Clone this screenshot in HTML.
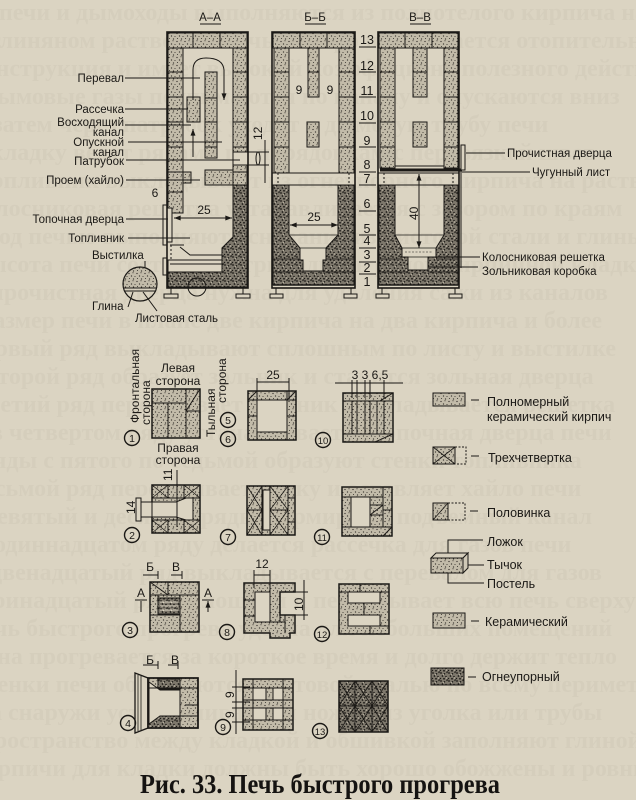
<!DOCTYPE html>
<html><head><meta charset="utf-8">
<style>
html,body{margin:0;padding:0;background:#dbd4c2;width:636px;height:800px;overflow:hidden}
svg{display:block}
</style></head><body>
<svg width="636" height="800" viewBox="0 0 636 800" xmlns="http://www.w3.org/2000/svg" font-family="'Liberation Sans', sans-serif">
<defs>
<pattern id="c" width="8" height="8" patternUnits="userSpaceOnUse">
 <rect width="8" height="8" fill="#c2bba9"/>
 <circle cx="1" cy="1.5" r=".65" fill="#34302a"/>
 <circle cx="5" cy=".8" r=".55" fill="#34302a"/>
 <circle cx="3.5" cy="4" r=".65" fill="#34302a"/>
 <circle cx="7" cy="4.5" r=".55" fill="#34302a"/>
 <circle cx="1.5" cy="6.5" r=".55" fill="#34302a"/>
 <circle cx="5.5" cy="7" r=".65" fill="#34302a"/>
</pattern>
<pattern id="r" width="8" height="8" patternUnits="userSpaceOnUse">
 <rect width="8" height="8" fill="#7f796d"/>
 <circle cx="1" cy="1" r=".9" fill="#1c1a17"/>
 <circle cx="4.5" cy="1.8" r=".8" fill="#1c1a17"/>
 <circle cx="7" cy=".5" r=".7" fill="#1c1a17"/>
 <circle cx="2.5" cy="4" r=".9" fill="#1c1a17"/>
 <circle cx="6" cy="4.5" r=".8" fill="#1c1a17"/>
 <circle cx=".5" cy="6.5" r=".7" fill="#1c1a17"/>
 <circle cx="4" cy="6.8" r=".9" fill="#1c1a17"/>
 <circle cx="7.2" cy="7.3" r=".6" fill="#1c1a17"/>
 <circle cx="3.5" cy="2.8" r=".6" fill="#d0c9b7"/>
 <circle cx="6.5" cy="6" r=".6" fill="#d0c9b7"/>
</pattern>
<marker id="a" viewBox="0 0 8 6" refX="8" refY="3" markerWidth="7" markerHeight="5" orient="auto-start-reverse" markerUnits="userSpaceOnUse"><path d="M0 0L8 3L0 6z" fill="#1b1916"/></marker>
</defs>

<rect width="636" height="800" fill="#dbd4c2"/>

<!-- faint bleed-through text -->
<g font-family="'Liberation Serif',serif" font-weight="bold" font-size="24" fill="#aca699" opacity=".12">
<text x="-20" y="20">в печи и дымоходы выполняются из полнотелого кирпича на</text>
<text x="-10" y="48">глиняном растворе и печь быстро прогревается отопительная</text>
<text x="-30" y="76">конструкция и имеет высокий коэффициент полезного действия</text>
<text x="-15" y="104">дымовые газы поднимаются по каналу и опускаются вниз</text>
<text x="-25" y="132">а затем через патрубок уходят в дымовую трубу печи</text>
<text x="-10" y="160">кладку ведут рядами по порядовкам с перевязкой швов</text>
<text x="-20" y="188">топливник выкладывают из огнеупорного кирпича на растворе</text>
<text x="-30" y="216">колосниковая решетка устанавливается с зазором по краям</text>
<text x="-15" y="244">под печью выполняют основание из листовой стали и глины</text>
<text x="-25" y="272">высота печи составляет тринадцать рядов кирпичной кладки</text>
<text x="-10" y="300">прочистная дверца нужна для удаления сажи из каналов</text>
<text x="-20" y="328">размер печи в плане две кирпича на два кирпича и более</text>
<text x="-30" y="356">первый ряд выкладывают сплошным по листу и выстилке</text>
<text x="-15" y="384">второй ряд образует зольник и ставится зольная дверца</text>
<text x="-25" y="412">третий ряд перекрывает зольник и укладывается решетка</text>
<text x="-10" y="440">в четвертом ряду устанавливается топочная дверца печи</text>
<text x="-20" y="468">ряды с пятого по седьмой образуют стенки топливника</text>
<text x="-30" y="496">восьмой ряд перекрывает топку и оставляет хайло печи</text>
<text x="-15" y="524">девятый и десятый ряды формируют подъемный канал</text>
<text x="-25" y="552">в одиннадцатом ряду делается рассечка для газов печи</text>
<text x="-10" y="580">двенадцатый ряд выкладывается с перевалом для газов</text>
<text x="-20" y="608">тринадцатый ряд сплошной и перекрывает всю печь сверху</text>
<text x="-30" y="636">печь быстрого прогрева удобна для небольших помещений</text>
<text x="-15" y="664">она прогревается за короткое время и долго держит тепло</text>
<text x="-25" y="692">стенки печи обшиваются листовой сталью по всему периметру</text>
<text x="-10" y="720">а снаружи устанавливаются ножки из уголка или трубы</text>
<text x="-20" y="748">пространство между кладкой и обшивкой заполняют глиной</text>
<text x="-30" y="776">кирпичи для кладки должны быть хорошо обожжены и ровные</text>
</g>

<g stroke="#1b1916" stroke-width="1" fill="none">

<!-- ================= A-A ================= -->
<rect x="168" y="33" width="79" height="15" fill="url(#c)"/>
<path d="M193 33V48M220 33V48"/>
<rect x="168" y="48" width="15" height="165" fill="url(#c)"/>
<path d="M168 72H183M168 97H183M168 122H183M168 147H183M168 172H183M168 192H183"/>
<rect x="233" y="48" width="14" height="137" fill="url(#c)"/>
<path d="M233 72H247M233 97H247M233 122H247M233 147H247M233 172H247"/>
<rect x="205" y="72" width="12" height="86" fill="url(#c)"/>
<path d="M205 98H217M205 122H217M205 147H217"/>
<rect x="187" y="97" width="13" height="25" fill="url(#c)"/>
<rect x="205" y="170" width="28" height="15" fill="url(#c)"/>
<rect x="183" y="172" width="8" height="11" fill="url(#c)"/>
<path d="M217 160H233"/>
<rect x="233" y="152" width="25" height="13" fill="#dbd4c2"/>
<ellipse cx="258" cy="158.5" rx="2" ry="6.5" fill="#dbd4c2"/>
<path fill="url(#r)" d="M233 185H247V287H168V272H222V248L233 237Z"/>
<rect x="168" y="260" width="54" height="12" fill="#dbd4c2"/>
<path d="M170 264H222"/>
<path d="M180 247L190 255H222M170 245H184"/>
<path d="M171 245V260" stroke-dasharray="2 2"/>
<rect x="163" y="205" width="4" height="40" fill="#dbd4c2"/>
<rect x="167" y="208" width="5" height="34" fill="#dbd4c2"/>
<rect x="163" y="258" width="4" height="17" fill="#dbd4c2"/>
<rect x="167" y="32" width="81" height="256" stroke-width="1.6"/>
<circle cx="197" cy="287" r="9"/>
<path d="M171 288V294M243 288V294"/>
<rect x="164" y="294" width="14" height="4" fill="#dbd4c2"/>
<rect x="236" y="294" width="14" height="4" fill="#dbd4c2"/>
<!-- flow arrows -->
<path d="M193 100V70Q193 58 206 58Q223 58 224 70V100" marker-end="url(#a)"/>
<path d="M193 157V129" marker-end="url(#a)"/>
<!-- dims -->
<line x1="174" y1="218" x2="232" y2="218" marker-start="url(#a)" marker-end="url(#a)"/>
<path d="M265 140V183M258 152H269M258 165H269"/>
<!-- leaders -->
<path d="M125 78H200M125 109H188M125 125H191M128 142H222M126 160H240M126 180H200M126 219H168M128 238H190M145 261V278"/>
<!-- detail circle -->
<clipPath id="cc"><circle cx="140" cy="284" r="17"/></clipPath>
<rect x="120" y="264" width="40" height="24" fill="url(#c)" clip-path="url(#cc)" stroke="none"/>
<circle cx="140" cy="284" r="17" stroke-width="1.2"/>
<path d="M123 288H157M124 291H156"/>
<path d="M128 307L133 292M157 311L143 292"/>

<!-- ================= Б-Б ================= -->
<rect x="273" y="33" width="81" height="15" fill="url(#c)"/>
<path d="M300 33V48M327 33V48"/>
<rect x="274" y="48" width="15" height="125" fill="url(#c)"/>
<rect x="339" y="48" width="15" height="125" fill="url(#c)"/>
<path d="M274 72H289M274 97H289M274 122H289M274 147H289M339 72H354M339 97H354M339 122H354M339 147H354"/>
<rect x="308" y="48" width="11" height="49" fill="url(#c)"/><path d="M308 72H319"/>
<rect x="307" y="122" width="12" height="25" fill="url(#c)"/>
<path d="M272 173H355M272 185H355"/>
<path d="M278 173V185M349 173V185" stroke-dasharray="2 2"/>
<path fill="url(#r)" fill-rule="evenodd" d="M273 185H354V285H273Z M289 185V235L300 248V260H303V271H323V260H326V248L338 235V185Z"/>
<path d="M289 235H338M300 248H326M273 259H300M326 259H354M273 272H303M323 272H354" stroke-width=".8"/>
<path d="M273 285H354" stroke-width="1.5"/>
<rect x="272" y="32" width="83" height="256" stroke-width="1.6"/>
<line x1="290" y1="225" x2="338" y2="225" marker-start="url(#a)" marker-end="url(#a)"/>
<path d="M276 288V294M351 288V294"/>
<rect x="270" y="294" width="13" height="4" fill="#dbd4c2"/>
<rect x="344" y="294" width="13" height="4" fill="#dbd4c2"/>

<!-- ================= В-В ================= -->
<rect x="379" y="33" width="79" height="15" fill="url(#c)"/>
<path d="M405 33V48M432 33V48"/>
<rect x="380" y="48" width="15" height="120" fill="url(#c)"/>
<rect x="444" y="48" width="14" height="120" fill="url(#c)"/>
<path d="M380 72H395M380 97H395M380 122H395M380 147H395M444 72H458M444 97H458M444 122H458M444 147H458"/>
<rect x="413" y="48" width="14" height="49" fill="url(#c)"/><path d="M413 72H427"/>
<rect x="413" y="122" width="14" height="25" fill="url(#c)"/>
<path d="M395 166H444"/>
<path d="M378 173H459M378 185H459"/>
<path d="M384 173V185M453 173V185" stroke-dasharray="2 2"/>
<path fill="url(#r)" fill-rule="evenodd" d="M379 185H458V285H379Z M395 185V235L402 248V257H408V270H428V257H436V248L444 235V185Z"/>
<path d="M395 235H444M402 248H436M402 257H436M379 259H402M436 259H458M379 272H408M428 272H458" stroke-width=".8"/>
<path d="M405 252H433" stroke-width=".6" stroke-dasharray="2 1.5"/>
<path d="M379 285H458" stroke-width="1.5"/>
<rect x="378" y="32" width="81" height="256" stroke-width="1.6"/>
<path d="M380 170H462" stroke-width="3"/>
<line x1="419" y1="174" x2="419" y2="248" marker-start="url(#a)" marker-end="url(#a)"/>
<rect x="461" y="145" width="4" height="25" fill="#dbd4c2"/>
<path d="M461 170V268"/>
<path d="M382 288V294M455 288V294"/>
<rect x="376" y="294" width="13" height="4" fill="#dbd4c2"/>
<rect x="449" y="294" width="13" height="4" fill="#dbd4c2"/>
<!-- right leaders -->
<path d="M466 153H505M462 172H530M436 257H480M428 267H478"/>
<!-- number underlines -->
<path d="M359 47H376M359 72H376M359 97H376M359 123H376M359 147H376M359 172H376M359 185H376M359 211H376M359 235H376M359 248H376M359 262H376M359 274H376"/>

<!-- ================= plan squares ================= -->
<!-- 1 -->
<rect x="152" y="389" width="34" height="14" fill="url(#c)"/>
<rect x="186" y="389" width="14" height="22" fill="url(#c)"/>
<line x1="186" y1="411" x2="200" y2="389"/>
<rect x="152" y="403" width="16" height="35" fill="url(#c)"/>
<rect x="168" y="403" width="18" height="35" fill="url(#c)"/>
<rect x="186" y="411" width="14" height="27" fill="url(#c)"/>
<rect x="152" y="389" width="48" height="49" stroke-width="1.5"/>

<!-- 5/6 -->
<rect x="248" y="391" width="48" height="49" fill="url(#c)" stroke-width="1.5"/>
<rect x="257" y="400" width="30" height="32" fill="#dbd4c2"/>
<path d="M257 391V400M287 391V400M248 400H257M287 400H296M257 432V440M287 432V440M248 416H257M287 416H296M248 400L257 391M287 400L296 391"/>
<path d="M257 382H289M257 378V398M289 378V398"/>

<!-- 10 -->
<rect x="343" y="393" width="50" height="49" fill="url(#c)" stroke-width="1.5"/>
<path d="M343 401H393M343 434H393M352 401V434M357 401V434M365 401V434M370 401V434M377 401V434M384 401V434M380 401L393 393M375 442L393 434"/>
<path d="M335 383H403M352 380V398M357 380V398M365 380V398M370 380V398M384 380V398"/>

<!-- 2 -->
<rect x="152" y="485" width="48" height="48" fill="url(#c)" stroke-width="1.5"/>
<path d="M152 498H200M152 520H200M168 485V498M184 485V498M168 520V533M184 520V533"/>
<path d="M152 485L168 498M168 485L152 498M184 485L200 498M200 485L184 498M152 520L168 533M168 520L152 533M184 520L200 533M200 520L184 533" stroke-width=".8"/>
<path fill="#dbd4c2" d="M152 502H176L186 498H193V520H186L176 517H152Z"/>
<rect x="141" y="502" width="11" height="15" fill="#dbd4c2"/>
<rect x="136" y="498" width="5" height="23" fill="#dbd4c2"/>
<path d="M177 470V527"/>

<!-- 7 -->
<rect x="247" y="486" width="48" height="49" fill="url(#c)" stroke-width="1.5"/>
<path d="M247 510H262M270 510H288M262 486V535M270 486V535M288 486V535M288 498H295M288 522H295"/>
<path d="M247 486L262 510M262 486L247 510M247 510L262 535M262 510L247 535M270 486L288 510M288 486L270 510M270 510L288 535M288 510L270 535" stroke-width=".8"/>
<rect x="263" y="490" width="7" height="40" fill="#dbd4c2"/>

<!-- 11 -->
<rect x="342" y="487" width="50" height="49" fill="url(#c)" stroke-width="1.5"/>
<rect x="351" y="497" width="19" height="30" fill="#dbd4c2"/>
<path d="M342 497H383M342 527H392M351 497V527M370 497V527M383 487V527M370 505H383M370 515H383M383 510H392M383 536L392 527M370 515L383 505"/>

<!-- 3 -->
<rect x="150" y="582" width="49" height="50" fill="url(#c)" stroke-width="1.5"/>
<path d="M150 595H199M168 582V595M180 595V632M150 615H180M150 582L168 595M158 595V615"/>
<rect x="158" y="598" width="22" height="16" fill="url(#r)"/>
<path d="M160 602H178M160 606H178M160 610H178" stroke="#dbd4c2"/>
<path d="M143 575H158M158 571V579M171 575H182M182 571V579"/>
<path d="M135 600H147M202 600H214"/>
<path d="M141 612V601M208 612V601" marker-end="url(#a)"/>

<!-- 8 -->
<path fill="url(#c)" stroke-width="1.5" d="M244 583H295V592H280V615H295V633H290V638H270V633H244Z"/>
<rect x="255" y="592" width="15" height="30" fill="#dbd4c2"/>
<path d="M244 600H255M244 616H255M270 592V622M255 622H285V633M270 583V592M285 615V633M280 592V622"/>
<path d="M254 575H270M254 570V588M270 570V588"/>
<path d="M304 580V620M290 592H308M290 615H308"/>

<!-- 12 -->
<rect x="339" y="584" width="50" height="50" fill="url(#c)" stroke-width="1.5"/>
<rect x="348" y="592" width="32" height="11" fill="#dbd4c2"/>
<rect x="348" y="615" width="32" height="11" fill="#dbd4c2"/>
<path d="M348 603H380M348 615H380M364 603V615M339 592H348M380 592H389M380 626H389M370 626V634M360 584V592"/>

<!-- 4 -->
<path d="M135 673L148 678V728L135 733Z" fill="#dbd4c2" stroke-width="1.3"/>
<path d="M138 675V731M141 676V730" stroke-width=".8"/>
<rect x="148" y="678" width="50" height="50" fill="url(#c)" stroke-width="1.5"/>
<rect x="148" y="706" width="32" height="22" fill="url(#r)"/>
<rect x="158" y="679" width="22" height="10" fill="url(#r)"/>
<path fill="#dbd4c2" d="M149 682L160 690H180V716H160L149 724Z"/>
<path d="M180 688V728M148 688H198M185 705H198M180 716H198"/>
<path d="M143 665H158M158 661V669M168 665H178M178 661V669"/>
<rect x="148" y="678" width="50" height="50" stroke-width="1.5"/>

<!-- 9 -->
<rect x="243" y="679" width="50" height="51" fill="url(#c)" stroke-width="1.5"/>
<rect x="253" y="688" width="30" height="12" fill="#dbd4c2"/>
<rect x="253" y="708" width="30" height="12" fill="#dbd4c2"/>
<rect x="266" y="688" width="7" height="12" fill="url(#c)"/>
<rect x="266" y="708" width="7" height="12" fill="url(#c)"/>
<path d="M243 688H293M243 700H293M243 708H293M243 720H293M253 679V730M283 679V730"/>
<path d="M236 670V734M232 687H250M232 702H250M232 708H250M232 722H250"/>

<!-- 13 -->
<rect x="339" y="681" width="49" height="51" fill="url(#r)" stroke-width="1.5"/>
<path d="M355 681V732M372 681V732M339 706H388"/>
<path d="M339 681L355 706M355 681L339 706M355 681L372 706M372 681L355 706M372 681L388 706M388 681L372 706M339 706L355 732M355 706L339 732M355 706L372 732M372 706L355 732M372 706L388 732M388 706L372 732" stroke-width=".8"/>

<!-- circled numbers -->
<g stroke-width="1.4">
<circle cx="132" cy="438" r="7.5"/><circle cx="228" cy="420" r="7.5"/><circle cx="228" cy="439" r="7.5"/>
<circle cx="323" cy="440" r="7.5"/><circle cx="132" cy="535" r="7.5"/><circle cx="228" cy="537" r="7.5"/>
<circle cx="322" cy="537" r="7.5"/><circle cx="130" cy="630" r="7.5"/><circle cx="227" cy="632" r="7.5"/>
<circle cx="322" cy="634" r="7.5"/><circle cx="128" cy="723" r="7.5"/><circle cx="223" cy="727" r="7.5"/>
<circle cx="320" cy="731" r="7.5"/>
</g>

<!-- ================= legend ================= -->
<rect x="433" y="393" width="32" height="13" fill="url(#c)"/>
<path d="M471 400H479"/>
<rect x="433" y="447" width="22" height="17" fill="url(#c)"/>
<path d="M433 447L455 464M455 447L433 464" stroke-width=".8"/>
<path d="M455 447H466V464H455" stroke-dasharray="2 1.5"/>
<path d="M471 456H479"/>
<rect x="433" y="503" width="15" height="17" fill="url(#c)"/>
<path d="M433 520L448 503" stroke-width=".8"/>
<path d="M448 503H465V520H448" stroke-dasharray="2 1.5"/>
<path d="M470 511H478"/>
<rect x="431" y="558" width="32" height="15" fill="url(#c)"/>
<path d="M431 558L436 553H468L463 558Z" fill="#d6cfbd"/>
<path d="M463 558L468 553V568L463 573Z" fill="#cfc8b6"/>
<path d="M448 553V540H483M468 565H484M448 573V583H484"/>
<rect x="433" y="613" width="32" height="15" fill="url(#c)"/>
<path d="M471 621H479"/>
<rect x="431" y="668" width="33" height="17" fill="url(#r)"/>
<path d="M468 677H476"/>
</g>

<!-- ================= TEXT ================= -->
<g fill="#1b1916" font-size="11.5">
<text x="210" y="21" text-anchor="middle">А–А</text>
<text x="315" y="21" text-anchor="middle">Б–Б</text>
<text x="420" y="21" text-anchor="middle">В–В</text>
<g text-anchor="end">
<text x="124" y="82">Перевал</text>
<text x="124" y="113">Рассечка</text>
<text x="124" y="126">Восходящий</text>
<text x="124" y="136">канал</text>
<text x="124" y="146">Опускной</text>
<text x="124" y="156">канал</text>
<text x="124" y="165">Патрубок</text>
<text x="124" y="184">Проем  (хайло)</text>
<text x="124" y="223">Топочная дверца</text>
<text x="124" y="242">Топливник</text>
</g>
<text x="92" y="259">Выстилка</text>
<text x="92" y="310">Глина</text>
<text x="135" y="322">Листовая сталь</text>
<text x="155" y="197" text-anchor="middle" font-size="12">6</text>
<text x="204" y="214" text-anchor="middle" font-size="12">25</text>
<text transform="translate(262,140) rotate(-90)" font-size="12">12</text>
<text x="299" y="94" text-anchor="middle" font-size="12">9</text>
<text x="330" y="94" text-anchor="middle" font-size="12">9</text>
<text x="314" y="221" text-anchor="middle" font-size="12">25</text>
<text transform="translate(418,220) rotate(-90)" font-size="12">40</text>
<text x="507" y="157">Прочистная дверца</text>
<text x="532" y="176">Чугунный лист</text>
<text x="482" y="261">Колосниковая решетка</text>
<text x="482" y="275">Зольниковая  коробка</text>
<g text-anchor="middle" font-size="12.5">
<text x="367" y="44">13</text><text x="367" y="70">12</text><text x="367" y="95">11</text>
<text x="367" y="120">10</text><text x="367" y="145">9</text><text x="367" y="169">8</text>
<text x="367" y="183">7</text><text x="367" y="208">6</text><text x="367" y="233">5</text>
<text x="367" y="245">4</text><text x="367" y="259">3</text><text x="367" y="272">2</text>
<text x="367" y="286">1</text>
</g>
<!-- lower labels -->
<g font-size="12">
<text transform="translate(139,423) rotate(-90)">Фронтальная</text>
<text transform="translate(150,425) rotate(-90)">сторона</text>
<text x="178" y="372" text-anchor="middle">Левая</text>
<text x="178" y="385" text-anchor="middle">сторона</text>
<text transform="translate(215,437) rotate(-90)">Тыльная</text>
<text transform="translate(226,403) rotate(-90)">сторона</text>
<text x="178" y="452" text-anchor="middle">Правая</text>
<text x="178" y="464" text-anchor="middle">сторона</text>
<text x="273" y="379" text-anchor="middle">25</text>
<text x="370" y="379" text-anchor="middle">3 3 6,5</text>
<text transform="translate(135,514) rotate(-90)">14</text>
<text transform="translate(172,481) rotate(-90)">11</text>
<text x="150" y="571" text-anchor="middle">Б</text>
<text x="176" y="571" text-anchor="middle">В</text>
<text x="141" y="597" text-anchor="middle">А</text>
<text x="208" y="597" text-anchor="middle">А</text>
<text x="262" y="568" text-anchor="middle">12</text>
<text transform="translate(303,611) rotate(-90)">10</text>
<text x="150" y="664" text-anchor="middle">Б</text>
<text x="175" y="664" text-anchor="middle">В</text>
<text transform="translate(234,698) rotate(-90)">9</text>
<text transform="translate(234,718) rotate(-90)">9</text>
</g>
<g font-size="10.5" text-anchor="middle">
<text x="132" y="442">1</text><text x="228" y="424">5</text><text x="228" y="443">6</text>
<text x="323" y="444" font-size="9.5">10</text><text x="132" y="539">2</text><text x="228" y="541">7</text>
<text x="322" y="541" font-size="9.5">11</text><text x="130" y="634">3</text><text x="227" y="636">8</text>
<text x="322" y="638" font-size="9.5">12</text><text x="128" y="727">4</text><text x="223" y="731">9</text>
<text x="320" y="735" font-size="9.5">13</text>
</g>
<!-- legend text -->
<g font-size="12.5">
<text x="487" y="406">Полномерный</text>
<text x="487" y="421">керамический кирпич</text>
<text x="488" y="462">Трехчетвертка</text>
<text x="487" y="517">Половинка</text>
<text x="487" y="546">Ложок</text>
<text x="487" y="569">Тычок</text>
<text x="487" y="588">Постель</text>
<text x="485" y="626">Керамический</text>
<text x="482" y="681">Огнеупорный</text>
</g>
</g>
<path d="M200 24H221M305 24H326M410 24H431" stroke="#1b1916" stroke-width="1"/>

<text x="140" y="793" font-family="'Liberation Serif', serif" font-weight="bold" font-size="27" fill="#151311" textLength="360" lengthAdjust="spacingAndGlyphs">Рис. 33. Печь быстрого прогрева</text>
</svg>
</body></html>
